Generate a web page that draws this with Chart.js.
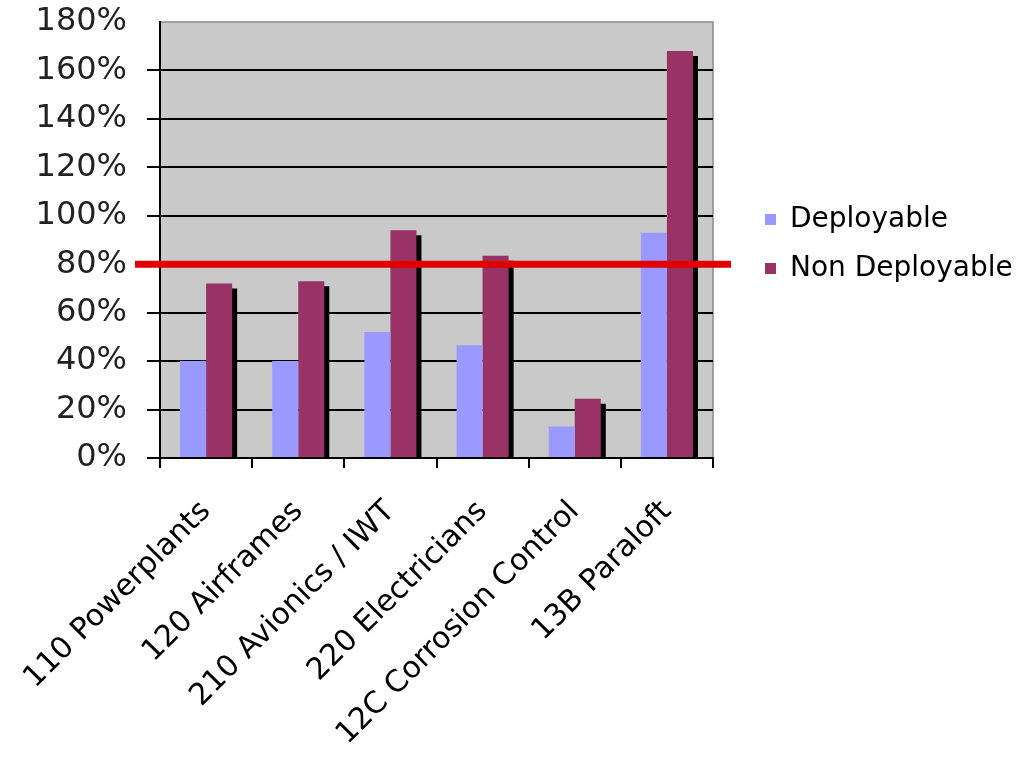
<!DOCTYPE html>
<html>
<head>
<meta charset="utf-8">
<script src="https://cdn.jsdelivr.net/npm/chart.js@4.4.1/dist/chart.umd.min.js"></script>
<style>
html,body{margin:0;padding:0;background:#fff;}
#wrap{width:1027px;height:763px;}
</style>
</head>
<body>
<div id="wrap"><canvas id="c" width="1027" height="763"></canvas></div>
<script>
const categories = ["110 Powerplants", "120 Airframes", "210 Avionics / IWT", "220 Electricians", "12C Corrosion Control", "13B Paraloft"];
const deployable = [40, 40, 52, 46.5, 13, 93];
const nonDeployable = [72, 73, 94, 83.5, 24.5, 168];
const threshold = 80;
const yTicks = [0, 20, 40, 60, 80, 100, 120, 140, 160, 180];

const FONT = "'DejaVu Sans', Verdana, sans-serif";

const bgPlugin = {
  id: 'plotBg',
  beforeDraw(chart) {
    const {ctx, chartArea: a} = chart;
    ctx.save();
    ctx.fillStyle = '#c9c9c9';
    ctx.fillRect(a.left, a.top, a.right - a.left, a.bottom - a.top);
    ctx.strokeStyle = '#8a8a8a';
    ctx.lineWidth = 1.5;
    ctx.beginPath();
    ctx.moveTo(a.left, a.top);
    ctx.lineTo(a.right, a.top);
    ctx.lineTo(a.right, a.bottom);
    ctx.stroke();
    ctx.restore();
  }
};

const shadowPlugin = {
  id: 'barShadow',
  beforeDatasetDraw(chart, args) {
    const ctx = chart.ctx;
    ctx.save();
    if (args.index === 1) {
      ctx.shadowColor = '#000';
      ctx.shadowOffsetX = 5;
      ctx.shadowOffsetY = 5;
      ctx.shadowBlur = 0;
    }
  },
  afterDatasetDraw(chart) {
    chart.ctx.restore();
  }
};

const thresholdPlugin = {
  id: 'threshold',
  afterDatasetsDraw(chart) {
    const {ctx, chartArea: a, scales} = chart;
    const y = scales.y.getPixelForValue(threshold);
    ctx.save();
    ctx.strokeStyle = '#e00000';
    ctx.lineWidth = 7;
    ctx.beginPath();
    ctx.moveTo(a.left - 25, y);
    ctx.lineTo(a.right + 18, y);
    ctx.stroke();
    ctx.restore();
  }
};

const LEGEND_WIDTH = 314;
const LEGEND_SHIFT_X = 31;
const LEGEND_SHIFT_Y = 4;
const legendLayoutPlugin = {
  id: 'legendLayout',
  beforeUpdate(chart) {
    const lg = chart.legend;
    if (lg && !lg._patched) {
      const orig = lg.fit.bind(lg);
      lg.fit = function () { orig(); this.width = LEGEND_WIDTH; };
      lg._patched = true;
    }
  },
  afterLayout(chart) {
    const lg = chart.legend;
    if (lg) {
      lg.left += LEGEND_SHIFT_X;
      lg.top += LEGEND_SHIFT_Y;
      lg.bottom += LEGEND_SHIFT_Y;
    }
  }
};

new Chart(document.getElementById('c'), {
  type: 'bar',
  data: {
    labels: categories,
    datasets: [
      { label: 'Deployable', data: deployable, backgroundColor: '#9999ff', borderWidth: 0 },
      { label: 'Non Deployable', data: nonDeployable, backgroundColor: '#993366', borderWidth: 0 }
    ]
  },
  options: {
    responsive: false,
    animation: false,
    devicePixelRatio: 1,
    layout: { padding: { top: 22, left: 10, right: 0, bottom: 0 } },
    datasets: { bar: { categoryPercentage: 0.565, barPercentage: 1.0 } },
    plugins: {
      tooltip: { enabled: false },
      legend: {
        position: 'right',
        align: 'center',
        fullSize: false,
        labels: {
          font: { family: FONT, size: 28 },
          color: '#000',
          boxWidth: 11,
          boxHeight: 11,
          padding: 21
        }
      }
    },
    scales: {
      x: {
        offset: true,
        grid: { display: true, drawOnChartArea: false, drawTicks: true, tickLength: 10, color: '#000', lineWidth: 2, offset: true },
        border: { display: true, color: '#000', width: 2 },
        ticks: {
          font: { family: FONT, size: 30 },
          color: '#000',
          minRotation: 45,
          maxRotation: 45,
          padding: 26
        },
        afterFit(scale) {
          scale.height = 305;
          scale.paddingLeft = 0;
          scale.paddingRight = 0;
        }
      },
      y: {
        min: 0,
        max: 180,
        afterBuildTicks(scale) { scale.ticks = yTicks.map(v => ({ value: v })); },
        grid: {
          color: (c) => (c.tick && c.tick.value === 180) ? 'rgba(0,0,0,0)' : '#000',
          lineWidth: 2,
          tickLength: 13,
          drawTicks: true
        },
        border: { display: true, color: '#000', width: 2 },
        ticks: {
          font: { family: FONT, size: 32 },
          color: '#222',
          padding: 20,
          callback: (v) => v + '%'
        },
        afterFit(scale) {
          scale.width = 150;
          scale.paddingTop = 0;
          scale.paddingBottom = 0;
        }
      }
    }
  },
  plugins: [bgPlugin, shadowPlugin, thresholdPlugin, legendLayoutPlugin]
});
</script>
</body>
</html>
